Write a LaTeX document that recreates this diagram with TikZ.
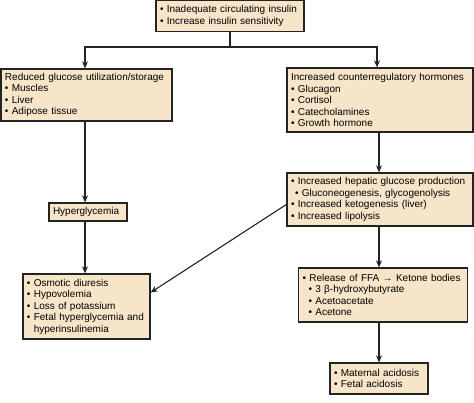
\documentclass[tikz,border=0pt]{standalone}
\usepackage{fontspec}
\setmainfont{Liberation Sans}
\usepackage{tikz}
\usetikzlibrary{arrows.meta}
\hyphenpenalty=10000
\definecolor{boxfill}{RGB}{247,229,201}
\definecolor{edge}{RGB}{35,35,35}
\tikzset{
  box/.style={draw=edge, fill=boxfill, line width=1.3pt, align=left,
    inner xsep=4pt, inner ysep=0pt, font=\fontsize{10}{11.5}\selectfont},
  arr/.style={draw=edge, line width=1.1pt, -{Stealth[length=7pt,width=6pt]}}
}

\begin{document}
\begin{tikzpicture}[x=1pt,y=1pt]
    \useasboundingbox (0,0) rectangle (474,402);
    % boxes
    \node[box, text width=140, minimum height=31] (insulin) at (230,386) {• Inadequate circulating insulin\\• Increase insulin sensitivity};
    \node[box, text width=163, minimum height=52] (uptake) at (86.5,307) {Reduced glucose utilization/storage\\• Muscles\\• Liver\\• Adipose tissue};
    \node[box, text width=178, minimum height=64] (hormones) at (380,302) {Increased counterregulatory hormones\\• Glucagon\\• Cortisol\\• Catecholamines\\• Growth hormone};
    \node[box, text width=70, minimum height=18] (hyper) at (88,190) {Hyperglycemia};
    \node[box, text width=178, minimum height=53] (hepatic) at (380,202.5) {• Increased hepatic glucose production\\\hspace{4pt}• Gluconeogenesis, glycogenolysis\\• Increased ketogenesis (liver)\\• Increased lipolysis};
    \node[box, text width=119, minimum height=65] (diuresis) at (86.5,95.5) {• Osmotic diuresis\\• Hypovolemia\\• Loss of potassium\\• Fetal hyperglycemia and\\\phantom{• }hyperinsulinemia};
    \node[box, text width=161, minimum height=54] (ketones) at (383,107) {• Release of FFA → Ketone bodies\\\hspace{6pt}• 3 β-hydroxybutyrate\\\hspace{6pt}• Acetoacetate\\\hspace{6pt}• Acetone};
    \node[box, text width=90, minimum height=31] (acidosis) at (379,23.5) {• Maternal acidosis\\• Fetal acidosis};
    % connectors
    \coordinate (split) at (230,355);
    \draw[draw=edge, line width=1.1pt] (insulin.south) -- (split);
    \draw[arr] (split) -| ([xshift=-1.5pt]uptake.north);
    \draw[arr] (split) -| ([xshift=-3pt]hormones.north);
    \draw[arr] ([xshift=-1.5pt]uptake.south) -- ([xshift=-1.5pt]uptake.south |- hyper.north);
    \draw[arr] ([xshift=-1.5pt]uptake.south |- hyper.south) -- ([xshift=-1.5pt]diuresis.north);
    \draw[arr] ([xshift=-1pt]hormones.south) -- ([xshift=-1pt]hormones.south |- hepatic.north);
    \draw[arr] ([xshift=-1pt]hepatic.south) -- ([xshift=-1pt]hepatic.south |- ketones.north);
    \draw[arr] ([xshift=-1pt]hepatic.south |- ketones.south) -- (acidosis.north);
    \draw[arr] ([yshift=-5pt]hepatic.west) -- ([yshift=14pt]diuresis.east);
\end{tikzpicture}
\end{document}
